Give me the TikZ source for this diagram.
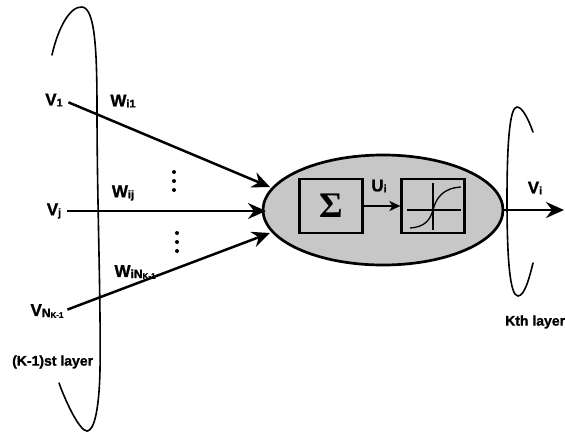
\documentclass[tikz,border=0pt]{standalone}
\usepackage{fontspec}
\setmainfont{Liberation Sans}[BoldFeatures={FakeBold=1.3}]
\newfontfamily\sigmafont{Liberation Serif}
\usetikzlibrary{arrows.meta,shapes.geometric}
% smaller index set on the base line, slightly lowered
\newcommand\idx[2][11]{\raisebox{-0.12ex}{\fontsize{#1}{#1}\selectfont #2}}
\begin{document}
\begin{tikzpicture}[x=1pt,y=-1pt,
  lbl/.style={font=\bfseries\fontsize{17}{17}\selectfont, inner sep=0pt},
  caption/.style={font=\bfseries\fontsize{14}{14}\selectfont, inner sep=0pt},
  layer/.style={line width=1.6pt, line cap=round},
  wire/.style={line width=2.5pt, -{Stealth[length=18pt,width=16pt,inset=6pt]}},
  unitbox/.style={draw, line width=2.2pt, fill=black!22, minimum width=63pt,
                  minimum height=54pt, inner sep=0pt},
]
\useasboundingbox (0,0) rectangle (565,432);

% (K-1)st layer
\draw[layer] (52,55) .. controls (58,28) and (70,6) .. (82,7)
  .. controls (95,8) and (97,50) .. (97,110)
  .. controls (97,200) and (101,300) .. (100,370)
  .. controls (99,415) and (93,431) .. (87,431)
  .. controls (80,431) and (67,405) .. (59,383);
% Kth layer
\draw[layer] (533,132) .. controls (528,118) and (522,107) .. (517,107)
  .. controls (510,107) and (507,140) .. (507,200)
  .. controls (507,260) and (510,296) .. (518,296)
  .. controls (525,296) and (530,275) .. (533,263);

% neuron i
\node[ellipse, draw, line width=2.7pt, fill=black!22, minimum width=240pt,
      minimum height=110pt] (cell) at (383,210) {};
\node[unitbox, font=\sigmafont\bfseries\fontsize{36}{36}\selectfont] (sum) at (331,206) {\raisebox{-0.5ex}{Σ}};
\node[unitbox] (act) at (433,206) {};
\begin{scope}[shift={(act.center)}, line width=1.3pt]
  \draw (-26,4) -- (28,4);
  \draw (0,-23) -- (0,24);
  \draw (-23,22) .. controls (-8,21) and (-3,14) .. (0,4)
        .. controls (3,-8) and (10,-18) .. (28,-19);
\end{scope}
\draw[line width=1.7pt, -{Stealth[length=11pt,width=10pt,inset=3pt]}] (sum.east) -- (act.west);
\node[lbl] (u) at (379,186) {U\idx{i}};

% inputs from the (K-1)st layer
\node[lbl] (v1) at (54,100) {V\idx{1}};
\node[lbl] (vj) at (54,211) {V\idx{j}};
\node[lbl] (vn) at (47,311) {V\idx[12]{N\idx[8]{K-1}}};
\coordinate (t1) at (270,187);
\coordinate (tj) at (266,211);
\coordinate (tn) at (270,233);
\draw[wire, shorten <=6pt] (v1.east) -- (t1);
\draw[wire, shorten <=6pt] (vj.east) -- (tj);
\draw[wire, shorten <=4pt] (vn.east) -- (tn);

% weights
\node[lbl] (w1) at (123,101) {W\idx{i1}};
\node[lbl] (wj) at (123,193) {W\idx{ij}};
\node[lbl] (wn) at (135,272) {W\idx[12]{iN\idx[8]{K-1}}};
\foreach \y in {172,181,190} \fill (174,\y) circle (2pt);
\foreach \y in {233,242,251} \fill (177,\y) circle (2pt);

% output
\coordinate (out) at (564,210);
\draw[wire] (cell.east) -- (out);
\node[lbl] (vi) at (535,188) {V\idx{i}};

% layer captions
\node[caption, anchor=west] (prev) at (12,362) {(K-1)st layer};
\node[caption, anchor=west] (cur) at (505,322) {Kth layer};
\end{tikzpicture}
\end{document}
